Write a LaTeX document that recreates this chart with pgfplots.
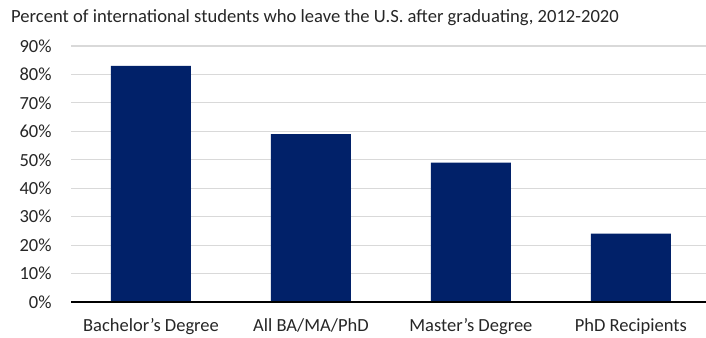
\documentclass[border=0pt]{standalone}
\usepackage{pgfplots}
\pgfplotsset{compat=1.18}
\usepackage{fontspec}
\setmainfont{Carlito}
\definecolor{barnavy}{RGB}{1,33,105}
\definecolor{gridgray}{RGB}{217,217,217}
\begin{document}
\begin{tikzpicture}[x=1bp,y=1bp]
\path[use as bounding box] (0,0) rectangle (706,337);
\node[anchor=west,inner sep=0pt,font=\fontsize{18.6bp}{22bp}\selectfont,text=black!85] at (11,319) {Percent of international students who leave the U.S. after graduating, 2012-2020};
\begin{axis}[
  at={(71bp,35bp)}, anchor=south west,
  scale only axis, width=635bp, height=256bp,
  ymin=0, ymax=90, ytick={0,10,...,90},
  yticklabel={\pgfmathprintnumber{\tick}\%},
  xmin=-0.5, xmax=3.47,
  xtick={0,1,2,3},
  xticklabels={Bachelor{\char"0027}s Degree, All BA/MA/PhD, Master{\char"0027}s Degree, PhD Recipients},
  axis line style={draw=none},
  ymajorgrids, major grid style={gridgray, line width=1.2bp},
  major tick length=0pt,
  tick label style={font=\fontsize{18.5bp}{21bp}\selectfont, text=black!85},
  /pgf/number format/assume math mode=true,
  yticklabel style={xshift=-16bp},
  xticklabel style={yshift=-13bp},
  clip=false,
]
\addplot[ybar, bar width=80bp, fill=barnavy, draw=none] coordinates {(0,83) (1,59) (2,49) (3,24)};
\draw[black, line width=2bp] (axis cs:-0.5,0) -- (axis cs:3.47,0);
\end{axis}
\end{tikzpicture}
\end{document}
